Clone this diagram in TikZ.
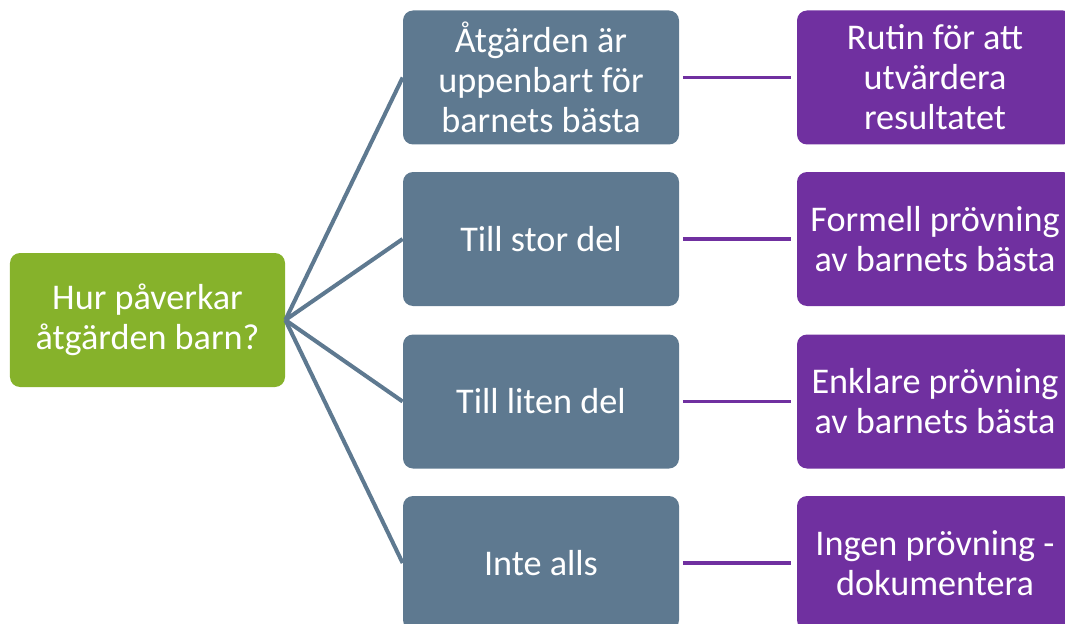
\documentclass[tikz,border=0pt]{standalone}
\usepackage{fontspec}
\setmainfont{Carlito}
\usepackage{xcolor}
\usetikzlibrary{positioning, calc}

\definecolor{askgreen}{HTML}{86B22B}
\definecolor{slateblue}{HTML}{5E7990}
\definecolor{routinepurple}{HTML}{7030A0}

\begin{document}
\begin{tikzpicture}[
    box/.style={rectangle, rounded corners=0.2cm, minimum width=5.52cm, minimum height=2.68cm,
        inner sep=0pt, align=center, text=white, font=\fontsize{20.6}{22.8}\selectfont},
    branch/.style={draw=slateblue, line width=2.3pt},
    link/.style={draw=routinepurple, line width=2.2pt, shorten <=2pt, shorten >=3pt}
]
    \useasboundingbox (0,0) rectangle (21.3,12.46);
    \clip (0,0) rectangle (21.3,12.46);

    % The question on the left
    \node[box, fill=askgreen, minimum width=5.5cm] (q) at (2.95,6.06) {Hur påverkar\\åtgärden barn?};

    % Answers and what follows from them
    \foreach \n/\y/\ans/\res in {
        1/10.91/{Åtgärden är\\uppenbart för\\barnets bästa}/{Rutin för att\\utvärdera\\resultatet},
        2/7.68/{Till stor del}/{Formell prövning\\av barnets bästa},
        3/4.43/{Till liten del}/{Enklare prövning\\av barnets bästa},
        4/1.2/{Inte alls}/{Ingen prövning -\\dokumentera}} {
        \node[box, fill=slateblue] (a\n) at (10.82,\y) {\ans};
        \node[box, fill=routinepurple] (r\n) at (18.7,\y) {\res};
        \draw[branch] (q.east) -- (a\n.west);
        \draw[link] (a\n.east) -- (r\n.west);
    }
\end{tikzpicture}
\end{document}
